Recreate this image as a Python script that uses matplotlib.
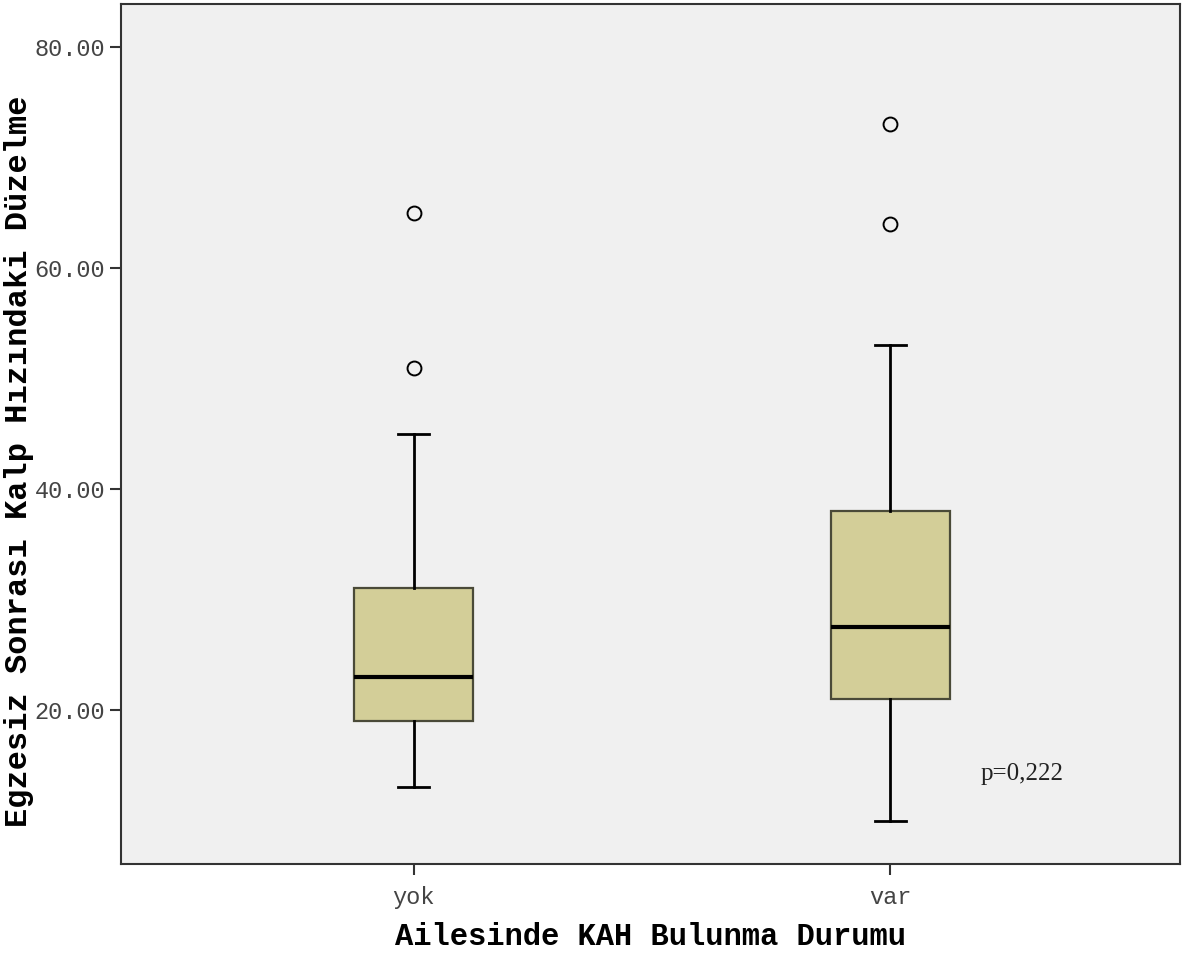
import matplotlib
matplotlib.use("Agg")
import matplotlib.pyplot as plt

# kutu grafiği özet değerleri
gruplar = ["yok", "var"]
q1 = [19.0, 21.0]
medyan = [23.0, 27.5]
q3 = [31.0, 38.0]
alt_bigit = [13.0, 10.0]
ust_bigit = [45.0, 53.0]
aykirilar = [[51.0, 65.0], [64.0, 73.0]]

stats = []
for i, g in enumerate(gruplar):
    stats.append({"label": g, "q1": q1[i], "med": medyan[i], "q3": q3[i],
                  "whislo": alt_bigit[i], "whishi": ust_bigit[i],
                  "fliers": aykirilar[i]})

fig = plt.figure(figsize=(11.89, 9.56), dpi=100)
ax = fig.add_axes([0.1018, 0.0962, 0.8906, 0.8996])
ax.set_facecolor("#f0f0f0")

ax.bxp(stats, positions=[1, 2], widths=0.25, patch_artist=True,
       boxprops=dict(facecolor="#d3ce98", edgecolor="#4a4a38", linewidth=1.6),
       medianprops=dict(color="black", linewidth=3),
       whiskerprops=dict(color="black", linewidth=2),
       capprops=dict(color="black", linewidth=2),
       capwidths=0.065,
       flierprops=dict(marker="o", markersize=10, markerfacecolor="none",
                       markeredgecolor="black", markeredgewidth=1.4))

ax.set_xlim(0.386, 2.608)
ax.set_ylim(6.06, 83.9)
ax.set_yticks([20, 40, 60, 80])
ax.set_yticklabels(["%.2f" % v for v in [20, 40, 60, 80]])
ax.set_xticks([1, 2])
ax.set_xticklabels(gruplar)

for s in ax.spines.values():
    s.set_color("#333333")
    s.set_linewidth(1.5)
ax.tick_params(axis="both", length=8, width=1.5, color="#333333",
               labelsize=17, labelcolor="#444444")
ax.tick_params(axis="x", pad=8)
for lab in ax.get_xticklabels() + ax.get_yticklabels():
    lab.set_fontfamily("Liberation Mono")

ax.set_xlabel("Ailesinde KAH Bulunma Durumu", fontsize=22, fontweight="bold",
              fontfamily="Liberation Mono", labelpad=9)
ax.set_ylabel("Egzesiz Sonrası Kalp Hızındaki Düzelme", fontsize=23,
              fontweight="bold", fontfamily="Liberation Mono")
ax.yaxis.set_label_coords(-0.082, 0.4686)

ax.text(2.277, 14.2, "p=0,222", fontsize=18, fontfamily="Liberation Serif",
        ha="center", va="center", color="#222222")

fig.savefig("out.png", dpi=100)
